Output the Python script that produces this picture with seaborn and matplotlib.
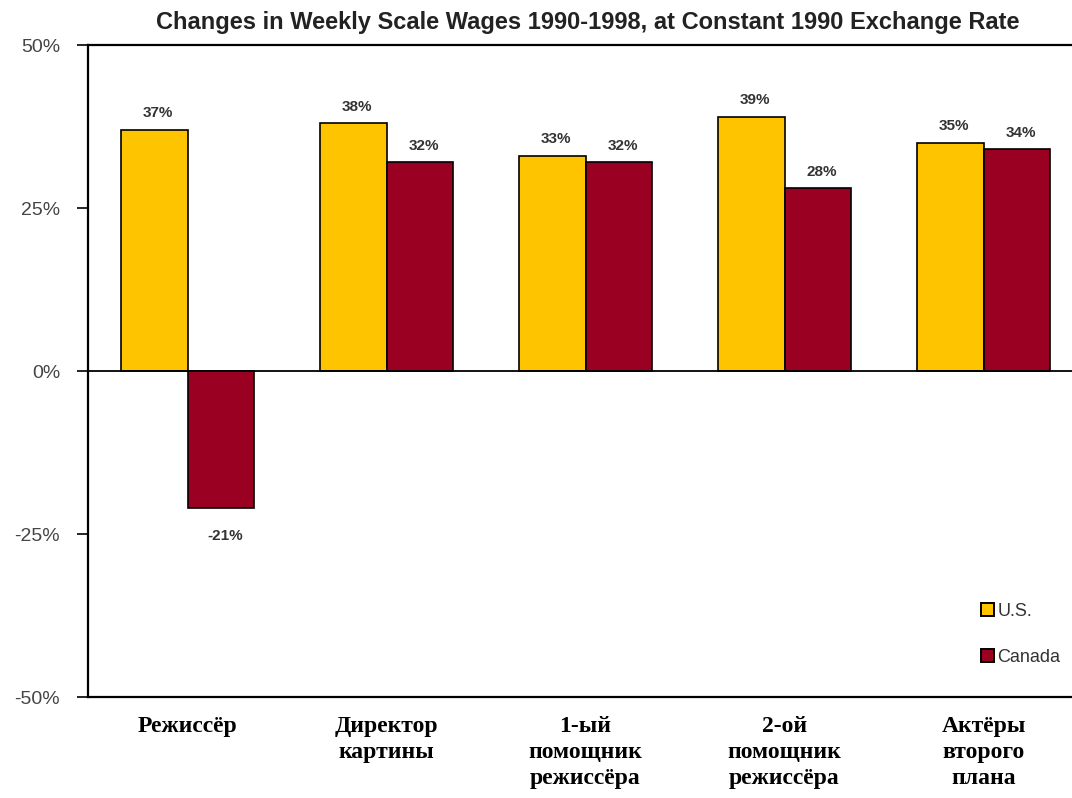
import matplotlib
matplotlib.use("Agg")
import matplotlib.pyplot as plt
import seaborn as sns
import pandas as pd
from matplotlib.ticker import FuncFormatter

categories = ["Режиссёр", "Директор\nкартины", "1-ый\nпомощник\nрежиссёра",
              "2-ой\nпомощник\nрежиссёра", "Актёры\nвторого\nплана"]
us_values = [37, 38, 33, 39, 35]
canada_values = [-21, 32, 32, 28, 34]
series_names = ["U.S.", "Canada"]
yticks = [-50, -25, 0, 25, 50]
title = "Changes in Weekly Scale Wages 1990-1998, at Constant 1990 Exchange Rate"

sns.set_theme(style="white")
plt.rcParams['font.family'] = ['Liberation Sans', 'DejaVu Sans']

df = pd.DataFrame({
    "category": categories * 2,
    "value": us_values + canada_values,
    "series": [series_names[0]] * len(categories) + [series_names[1]] * len(categories),
})

fig = plt.figure(figsize=(10.72, 7.98), dpi=100)
W, H = 1072, 798
ax = fig.add_axes([88 / W, 1 - 697 / H, (1083 - 88) / W, (697 - 45) / H])

sns.barplot(data=df, x="category", y="value", hue="series", order=categories,
            hue_order=series_names, palette=["#FFC400", "#9A0021"],
            width=0.67, edgecolor="black", linewidth=1.2, saturation=1,
            ax=ax, legend=True)

ax.set_ylim(-50, 50)
ax.set_xlim(-0.5, 4.5)
ax.set_yticks(yticks)
ax.yaxis.set_major_formatter(FuncFormatter(lambda v, p: f"{int(v)}%"))
ax.axhline(0, color="black", linewidth=1.3, zorder=1)

for s in ax.spines.values():
    s.set_color("black")
    s.set_linewidth(1.6)
ax.spines["right"].set_visible(False)

ax.tick_params(axis="y", left=True, length=8, width=1.2, color="black",
               labelsize=14, labelcolor="#454545", pad=12)
ax.tick_params(axis="x", bottom=False, pad=8)
for lab in ax.get_xticklabels():
    lab.set_fontfamily(['Liberation Serif', 'DejaVu Serif'])
    lab.set_fontweight("bold")
    lab.set_fontsize(17)
    lab.set_color("black")
    lab.set_verticalalignment("top")
    lab.set_linespacing(1.3)
ax.set_xlabel("")
ax.set_ylabel("")

for container in ax.containers:
    for patch in container:
        h = patch.get_height()
        x = patch.get_x() + patch.get_width() / 2
        if h >= 0:
            ax.annotate(f"{int(round(h))}%", (x, h), xytext=(3, 7),
                        textcoords="offset points", ha="center", va="bottom",
                        fontsize=11, fontweight="bold", color="#333333")
        else:
            ax.annotate(f"{int(round(h))}%", (x, h), xytext=(3, -15),
                        textcoords="offset points", ha="center", va="top",
                        fontsize=11, fontweight="bold", color="#333333")

ax.legend(loc="upper left", bbox_to_anchor=(972 / W, 1 - 594 / H),
          bbox_transform=fig.transFigure, frameon=False, fontsize=13,
          handlelength=0.7, handleheight=0.7, handletextpad=0.2,
          labelspacing=1.6, borderpad=0, labelcolor="#333333")
leg = ax.get_legend()
for h in leg.legend_handles:
    h.set_edgecolor("black")
    h.set_linewidth(1.4)

fig.text(588 / W, 1 - 22 / H, title, ha="center", va="center",
         fontsize=17, fontweight="bold", color="#222222")

fig.savefig("out.png", dpi=100, facecolor="white")
